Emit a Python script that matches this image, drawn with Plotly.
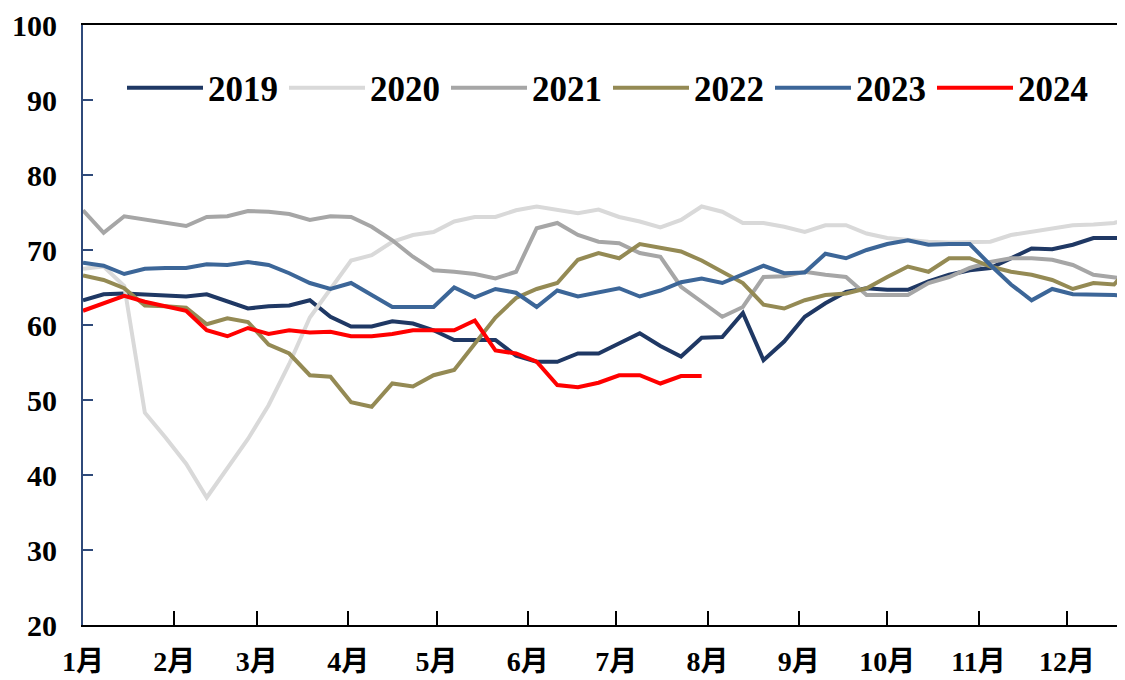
import plotly.graph_objects as go

# Weekly observations (week index -> day of year = 7*week)
years = ["2019", "2020", "2021", "2022", "2023", "2024"]
colors = ["#1F3864", "#D9D9D9", "#A6A6A6", "#948A54", "#3C6698", "#FF0000"]

v2019 = [63.3, 64.1, 64.2, 64.1, 64.0, 63.8, 64.1, 63.1, 62.2, 62.5, 62.6, 63.3, 61.1,
         59.8, 59.8, 60.5, 60.2, 59.3, 58.0, 58.0, 58.0, 55.9, 55.1, 55.1, 56.2, 56.2,
         57.5, 58.9, 57.2, 55.8, 58.3, 58.4, 61.6, 55.3, 57.8, 61.1, 62.9, 64.4, 64.9,
         64.7, 64.7, 65.8, 66.7, 67.3, 67.6, 68.9, 70.2, 70.1, 70.7, 71.6, 71.6, 71.6]
v2020 = [67.5, 67.8, 65.2, 48.3, 45.0, 41.5, 37.0, 40.8, 44.8, 49.3, 54.8, 61.0, 64.7,
         68.6, 69.3, 71.1, 72.0, 72.4, 73.8, 74.4, 74.4, 75.3, 75.8, 75.3, 74.9, 75.4,
         74.4, 73.8, 73.0, 74.0, 75.8, 75.1, 73.6, 73.6, 73.1, 72.4, 73.3, 73.3, 72.2,
         71.6, 71.3, 71.1, 71.0, 71.0, 71.1, 72.0, 72.4, 72.9, 73.3, 73.4, 73.6, 74.4]
v2021 = [75.3, 72.3, 74.5, 74.1, 73.6, 73.2, 74.4, 74.5, 75.2, 75.1, 74.8, 74.0, 74.5,
         74.4, 73.1, 71.3, 69.1, 67.3, 67.1, 66.8, 66.2, 67.1, 72.9, 73.6, 72.0, 71.1,
         70.9, 69.6, 69.1, 65.1, 63.1, 61.1, 62.4, 66.4, 66.5, 67.1, 66.7, 66.4, 64.0,
         64.0, 64.0, 65.6, 66.4, 67.6, 68.4, 68.9, 68.9, 68.7, 68.0, 66.7, 66.4, 66.0]
v2022 = [66.6, 66.0, 64.9, 62.6, 62.5, 62.3, 60.1, 60.9, 60.4, 57.4, 56.2, 53.3, 53.1,
         49.7, 49.1, 52.2, 51.8, 53.3, 54.0, 57.6, 61.0, 63.6, 64.8, 65.6, 68.7, 69.6,
         68.9, 70.8, 70.3, 69.8, 68.6, 67.1, 65.6, 62.7, 62.2, 63.3, 64.0, 64.2, 64.9,
         66.4, 67.8, 67.1, 68.9, 68.9, 67.8, 67.1, 66.7, 66.0, 64.8, 65.6, 65.4, 68.5]
v2023 = [68.3, 67.9, 66.8, 67.5, 67.6, 67.6, 68.1, 68.0, 68.4, 68.0, 66.9, 65.6, 64.8,
         65.6, 64.0, 62.4, 62.4, 62.4, 65.0, 63.7, 64.8, 64.3, 62.4, 64.6, 63.8, 64.4,
         64.9, 63.8, 64.6, 65.7, 66.2, 65.6, 66.8, 67.9, 66.9, 67.0, 69.5, 68.9, 70.0,
         70.8, 71.3, 70.7, 70.8, 70.8, 68.0, 65.4, 63.3, 64.8, 64.1, 64.1, 64.0, 63.8]
v2024 = [61.9, 62.9, 63.9, 63.1, 62.5, 61.9, 59.3, 58.5, 59.6, 58.8, 59.3, 59.0, 59.1,
         58.5, 58.5, 58.8, 59.3, 59.3, 59.3, 60.6, 56.6, 56.2, 55.1, 52.0, 51.7, 52.3,
         53.3, 53.3, 52.2, 53.2, 53.2]

series = [v2019, v2020, v2021, v2022, v2023, v2024]

month_days = [0, 31, 59, 90, 120, 151, 181, 212, 243, 273, 304, 334]
month_labels = ["1月", "2月", "3月", "4月", "5月", "6月", "7月", "8月", "9月", "10月", "11月", "12月"]
y_ticks = [20, 30, 40, 50, 60, 70, 80, 90, 100]

FONT = "Liberation Serif, 'Times New Roman', 'Noto Sans CJK SC', serif"

fig = go.Figure()
for name, vals, col in zip(years, series, colors):
    fig.add_trace(go.Scatter(
        x=[7 * i for i in range(len(vals))], y=vals, mode="lines", name=name,
        line=dict(color=col, width=4),
    ))

# page body adds an 8px offset; figure sized so the plot area lands where the reference has it
fig.update_layout(
    width=1132, height=680,
    margin=dict(l=75, r=0, t=17, b=63, autoexpand=False),
    paper_bgcolor="white", plot_bgcolor="white",
    font=dict(family=FONT, color="black"),
    showlegend=True,
    legend=dict(
        orientation="h", x=(114 - 75) / 1057, y=0.895, xanchor="left", yanchor="middle",
        font=dict(family=FONT, size=35, color="black", weight="bold"),
        itemwidth=76, entrywidth=71, entrywidthmode="pixels",
        bgcolor="rgba(0,0,0,0)",
    ),
    xaxis=dict(
        range=[0, 358.8], tickvals=month_days, ticktext=month_labels,
        showgrid=False, zeroline=False, automargin=False,
        showline=True, linecolor="black", linewidth=2, mirror=True,
        ticks="inside", ticklen=14, tickwidth=2, tickcolor="black",
        tickfont=dict(family=FONT, size=28, color="black", weight="bold"),
        ticklabelstandoff=10,
    ),
    yaxis=dict(
        range=[20, 100], tickvals=y_ticks,
        showgrid=False, zeroline=False, automargin=False,
        showline=True, linecolor="#2F4A7A", linewidth=2,
        ticks="inside", ticklen=10, tickwidth=2, tickcolor="#2F4A7A",
        tickfont=dict(family=FONT, size=30, color="black", weight="bold"),
        ticklabelstandoff=18,
    ),
)

fig.write_html("out.html")
